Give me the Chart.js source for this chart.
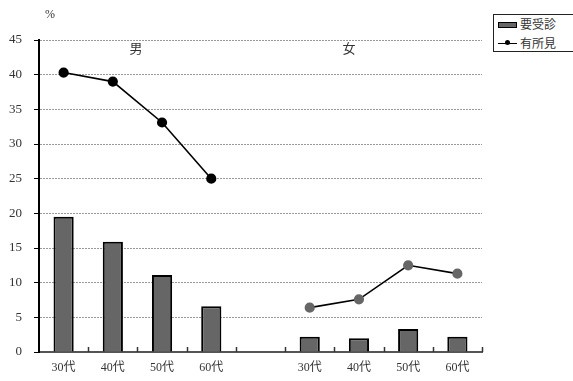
<!DOCTYPE html>
<html><head><meta charset="utf-8">
<script src="https://cdn.jsdelivr.net/npm/chart.js@4/dist/chart.umd.min.js"></script>
<style>
html,body{margin:0;padding:0;background:#fff;}
#wrap{position:relative;width:573px;height:381px;}
#legend{position:absolute;left:493px;top:14px;width:80px;height:38px;box-sizing:border-box;border:1px solid #222;border-right:none;background:#fff;font-family:"Liberation Serif","Noto Sans CJK JP",serif;font-size:12px;color:#333;}
.row{position:absolute;left:4px;height:14px;line-height:14px;white-space:nowrap;}
.sw{position:absolute;left:0;top:4px;width:17px;height:4px;background:#666;border:1px solid #000;}
.ln{position:absolute;left:0;top:6px;width:19px;height:0;border-top:1.5px solid #000;}
.dt{position:absolute;left:7px;top:3px;width:5px;height:5px;border-radius:50%;background:#000;}
.tx{position:absolute;left:22px;top:0;}
</style></head>
<body><div id="wrap"><canvas id="c" width="573" height="381"></canvas>
<div id="legend">
<div class="row" style="top:3px"><span class="sw"></span><span class="tx">要受診</span></div>
<div class="row" style="top:22px"><span class="ln"></span><span class="dt"></span><span class="tx">有所見</span></div>
</div></div>
<script>
const categories = ['30代','40代','50代','60代','','30代','40代','50代','60代'];
const yoJushin = [19.5, 15.9, 11.1, 6.6, null, 2.2, 2.0, 3.3, 2.2];
const yuShoken = [40.3, 39.0, 33.1, 25.0, null, 6.4, 7.6, 12.5, 11.3];
const pointColors = ['#000','#000','#000','#000','#000','#666','#666','#666','#666'];
const groupLabels = ['男','女'];
const groupPos = [1.47, 5.8];
const yTicks = [0,5,10,15,20,25,30,35,40,45];

const FONT = '"Liberation Serif","Noto Sans CJK JP",serif';

const deco = {
  id:'deco',
  afterDraw(chart){
    const ctx = chart.ctx, xs = chart.scales.x, ys = chart.scales.y, ca = chart.chartArea;
    ctx.save();
    ctx.strokeStyle = '#333'; ctx.lineWidth = 1.5;
    for(let i=1;i<=categories.length;i++){
      const x = Math.round(xs.getPixelForValue(i-0.5))+0.5;
      ctx.beginPath(); ctx.moveTo(x, ca.bottom-5); ctx.lineTo(x, ca.bottom); ctx.stroke();
    }
    ctx.fillStyle = '#333';
    ctx.font = '13px ' + FONT;
    ctx.textAlign = 'center'; ctx.textBaseline = 'middle';
    groupLabels.forEach((t,i)=>{
      ctx.fillText(t, xs.getPixelForValue(groupPos[i]), ys.getPixelForValue(43.6));
    });
    ctx.font = '12px ' + FONT;
    ctx.fillText('%', 50, 15);
    ctx.restore();
  }
};

new Chart(document.getElementById('c'), {
  data:{
    labels:categories,
    datasets:[
      {type:'line', label:'有所見', data:yuShoken, borderColor:'#000', borderWidth:1.6,
       pointBackgroundColor:pointColors, pointBorderColor:pointColors, pointRadius:4.3,
       spanGaps:false, tension:0, order:0},
      {type:'bar', label:'要受診', data:yoJushin, backgroundColor:'#666', borderColor:'#000',
       borderWidth:2, barPercentage:0.41, categoryPercentage:1, order:1}
    ]
  },
  options:{
    responsive:false, animation:false,
    layout:{padding:{top:40,right:91,left:0,bottom:0}},
    plugins:{legend:{display:false}, tooltip:{enabled:false}},
    scales:{
      x:{
        offset:true,
        grid:{display:true, drawOnChartArea:false, drawTicks:false},
        border:{display:true, color:'#555', width:2},
        ticks:{padding:9, color:'#333', font:{family:FONT, size:12}, maxRotation:0, autoSkip:false},
        afterFit(s){ s.height = 29; }
      },
      y:{
        min:0, max:45,
        afterBuildTicks(s){ s.ticks = yTicks.map(v=>({value:v})); },
        grid:{color:(c)=> c.tick && c.tick.value===0 ? 'rgba(0,0,0,0)' : '#999',
              lineWidth:1, tickLength:5, tickColor:'#000', tickWidth:1},
        border:{display:true, color:'#000', width:2, dash:[2,1]},
        ticks:{padding:12, color:'#333', font:{family:FONT, size:13}},
        afterFit(s){ s.width = 39; }
      }
    }
  },
  plugins:[deco]
});
</script></body></html>
